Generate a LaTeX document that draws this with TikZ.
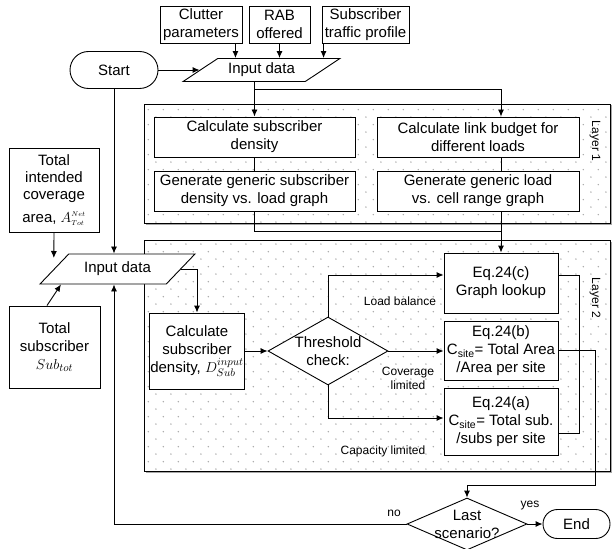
\documentclass[tikz,border=0pt]{standalone}
\usepackage{fontspec}
\setmainfont{Liberation Sans}
\usepackage{tikz}
\usetikzlibrary{shapes,shapes.geometric,shapes.misc,arrows.meta,positioning,calc,patterns}

\pgfdeclarepatternformonly{layerdots}{\pgfpointorigin}{\pgfpoint{15.4pt}{15.4pt}}{\pgfpoint{15.4pt}{15.4pt}}{%
  \pgfpathcircle{\pgfpoint{3pt}{3pt}}{0.8pt}%
  \pgfpathcircle{\pgfpoint{10.7pt}{10.7pt}}{0.8pt}%
  \pgfusepath{fill}}

\begin{document}
\begin{tikzpicture}[
    x=1pt, y=-1pt, line width=0.9pt,
    every node/.style={font=\fontsize{15}{18}\selectfont},
    box/.style={rectangle, draw, fill=white, align=center, inner sep=1pt},
    term/.style={rounded rectangle, draw, fill=white, inner sep=1pt},
    io/.style={trapezium, trapezium stretches=true, draw, fill=white, inner sep=1pt},
    decision/.style={diamond, draw, fill=white, inner sep=0pt},
    layer/.style={rectangle, draw, fill=white, postaction={pattern=layerdots, pattern color=gray!70},
                  preaction={fill=gray!70, transform canvas={xshift=1.5pt, yshift=-1.5pt}}},
    layerlbl/.style={rotate=-90, font=\fontsize{12}{14}\selectfont},
    lbl/.style={align=center, font=\fontsize{12}{14}\selectfont, inner sep=0pt},
    arrow/.style={->, >={Latex[length=7pt,width=6pt]}}
]
\useasboundingbox (0,0) rectangle (612,548);

% Layers
\node[layer, minimum width=466, minimum height=119] (lay1) at (377,163.5) {};
\node[layer, minimum width=466, minimum height=231] (lay2) at (377,355.5) {};
\node[layerlbl] (lay1lbl) at (595,141) {Layer 1};
\node[layerlbl] (lay2lbl) at (595,298) {Layer 2};

% Inputs on top
\node[box, minimum width=82, minimum height=37] (clutter) at (201,24.5) {Clutter\\parameters};
\node[box, minimum width=61, minimum height=37] (rab) at (279.5,24.5) {RAB\\offered};
\node[box, minimum width=87, minimum height=37] (traffic) at (365.5,24.5) {Subscriber\\traffic profile};

\node[term, minimum width=90, minimum height=37] (start) at (114,70) {Start};
\node[io, trapezium left angle=30.5, trapezium right angle=149.5, minimum width=157, minimum height=23] (in1) at (261.5,70) {Input data};

% Layer 1
\node[box, minimum width=201, minimum height=40] (dens1) at (254.5,137) {Calculate subscriber\\density};
\node[box, minimum width=202, minimum height=40] (link) at (478,137) {Calculate link budget for\\different loads};
\node[box, minimum width=201, minimum height=40] (densgraph) at (254.5,191) {Generate generic subscriber\\density vs. load graph};
\node[box, minimum width=202, minimum height=40] (rangegraph) at (478,191) {Generate generic load\\vs. cell range graph};

% Left inputs
\node[box, minimum width=90, minimum height=84, font=\fontsize{15}{17}\selectfont] (area) at (54,190) {Total\\intended\\coverage\\[6pt]area, $A_{\scriptscriptstyle Tot}^{\scriptscriptstyle Net}$};
\node[box, minimum width=91, minimum height=82] (subs) at (54.5,347) {Total\\subscriber\\$Sub_{tot}$};
\node[io, trapezium left angle=38.3, trapezium right angle=141.7, minimum width=155, minimum height=30] (in2) at (117.5,269) {Input data};

% Layer 2
\node[box, minimum width=90, minimum height=76] (dens2) at (197,351) {Calculate\\subscriber\\density, $D_{Sub}^{input}$};
\node[decision, minimum width=120, minimum height=68, label={[align=center]center:Threshold\\check:}] (thr) at (328,351) {};
\node[box, minimum width=114, minimum height=60] (eqc) at (501,283) {Eq.24(c)\\Graph lookup};
\node[box, minimum width=114, minimum height=59] (eqb) at (501,350.5) {Eq.24(b)\\C\textsubscript{site}= Total Area\\/Area per site};
\node[box, minimum width=114, minimum height=67] (eqa) at (501,421.5) {Eq.24(a)\\C\textsubscript{site}= Total sub.\\/subs per site};
\node[lbl] (lbal) at (400,301) {Load balance};
\node[lbl] (lcov) at (408,378) {Coverage\\limited};
\node[lbl] (lcap) at (383,451) {Capacity limited};

% End
\node[decision, minimum width=120, minimum height=52, label={[align=center]center:Last\\scenario?}] (last) at (467,524) {};
\node[term, minimum width=69, minimum height=29] (endn) at (576.5,524) {End};
\node[lbl] (lyes) at (530,506) {yes};
\node[lbl] (lno) at (394,513) {no};

% Arrows
\draw[arrow] ([xshift=-7pt]clutter.south east) -- ([xshift=-7pt]clutter.south east |- in1.north);
\draw[arrow] (rab.south) -- (rab.south |- in1.north);
\draw[arrow] ([xshift=2pt]traffic.south west) -- ([xshift=2pt]traffic.south west |- in1.north);
\draw[arrow] (start.east) -- (start.east -| in1.west);
\draw[arrow] (start.south) -- (start.south |- in2.north);
\draw[arrow] (dens1.north |- in1.south) -- (dens1.north);
\draw[arrow] ([yshift=-7pt]dens1.north |- in1.south) -| (eqc.north |- link.north);
\draw (dens1) -- (densgraph);
\draw (eqc.north |- link.south) -- (eqc.north |- rangegraph.north);
\coordinate (join) at ($(densgraph.south)+(0,20)$);
\draw (densgraph.south) -- (join) -- (join -| eqc.north);
\draw[arrow] (eqc.north |- rangegraph.south) -- (eqc.north);

\draw[arrow, shorten >=11pt] (area.south) -- (in2.west);
\draw[arrow] ([xshift=-7.5pt]subs.north) -- ([xshift=22pt]in2.bottom left corner);
\draw[arrow] (in2.east) -| (dens2.north);
\draw[arrow] (dens2.east) -- (thr.west);
\draw[arrow] (thr.north) |- ([yshift=8pt]eqc.west);
\draw[arrow] (thr.east) -- (thr.east -| eqb.west);
\draw[arrow] (thr.south) |- ([yshift=3.5pt]eqa.west);
\draw ([yshift=8pt]eqc.east) -- ++(21,0) |- ([yshift=-11.5pt]eqa.east);
\draw[arrow] (eqb.east) -- ++(37,0) |- ([yshift=12pt]last.north) -- (last.north);
\draw[arrow] (last.east) -- (endn.west);
\draw[arrow] (last.west) -| (start.south |- in2.south);

\end{tikzpicture}
\end{document}
